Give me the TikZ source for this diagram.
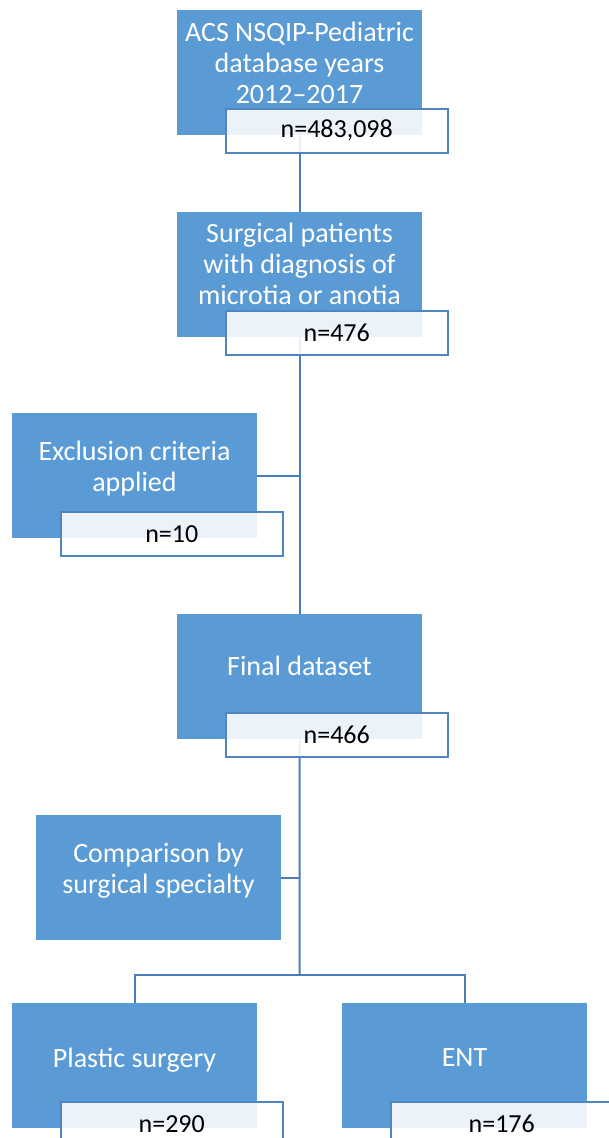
\documentclass[tikz,border=0pt]{standalone}
\usepackage{fontspec}
\setmainfont{Carlito}
\usetikzlibrary{backgrounds}
\definecolor{boxblue}{HTML}{5B9BD5}
\definecolor{edgeblue}{HTML}{4F86C0}
\definecolor{linkblue}{HTML}{4A7EBB}

\begin{document}
\begin{tikzpicture}[x=1pt,y=-1pt,
  stage/.style={fill=boxblue, draw=none, minimum width=245pt, minimum height=125pt,
    inner sep=0pt, anchor=north west},
  stagetext/.style={text=white, font=\fontsize{28}{31}\selectfont, align=center, inner sep=0pt},
  countbox/.style={fill=white, fill opacity=0.88, text opacity=1, draw=edgeblue,
    line width=1.5pt, minimum width=222pt, minimum height=44pt, inner sep=0pt,
    anchor=north west, font=\fontsize{26}{30}\selectfont, text=black},
  link/.style={draw=linkblue, line width=2pt}
]
\useasboundingbox (0,0) rectangle (608,1138);

% stage boxes
\node[stage] (src) at (177,10) {};
\node[stage] (sel) at (177,212) {};
\node[stage] (exc) at (12,413) {};
\node[stage] (fin) at (177,614) {};
\node[stage] (cmp) at (36,815) {};
\node[stage] (pla) at (12,1003) {};
\node[stage] (ent) at (342,1003) {};

% stage captions
\node[stagetext] (srct) at (299.5,62.5) {ACS NSQIP-Pediatric\\database years\\2012--2017};
\node[stagetext] (selt) at (299.5,263.7) {Surgical patients\\with diagnosis of\\microtia or anotia};
\node[stagetext] (exct) at (134.5,468.7) {Exclusion criteria\\applied};
\node[stagetext] (fint) at (299.5,666.2) {Final dataset};
\node[stagetext] (cmpt) at (158.5,870.7) {Comparison by\\surgical specialty};
\node[stagetext] (plat) at (134.5,1060) {Plastic surgery};
\node[stagetext] (entt) at (464.5,1058) {ENT};

% count boxes
\node[countbox] (srcn) at (225,108) {n=483,098};
\node[countbox] (seln) at (225,310) {n=476};
\node[countbox] (excn) at (60,511) {n=10};
\node[countbox] (finn) at (225,712) {n=466};
\node[countbox] (plan) at (60,1101) {n=290};
\node[countbox] (entn) at (390,1101) {n=176};

\coordinate (split) at (299.5,974.5);

\begin{pgfonlayer}{background}
  \fill[white] (0,0) rectangle (608,1138);
  \draw[link] (src.south) -- (sel.north);
  \draw[link] (sel.south) -- (fin.north);
  \draw[link] (exc.east) -- (exc.east -| sel.south);
  \draw[link] (fin.south) -- (split);
  \draw[link] (cmp.east) -- (cmp.east -| split);
  \draw[link] (pla.north) |- (split) -| (ent.north);
\end{pgfonlayer}
\end{tikzpicture}
\end{document}
